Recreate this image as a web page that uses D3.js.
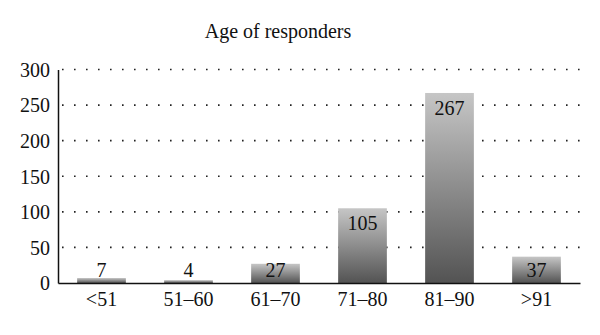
<!DOCTYPE html>
<html>
<head>
<meta charset="utf-8">
<script src="https://cdn.jsdelivr.net/npm/d3@7"></script>
<style>
  html, body { margin: 0; padding: 0; background: #fff; }
  svg { display: block; }
  text { font-family: "Liberation Serif", "DejaVu Serif", serif; fill: #111; }
</style>
</head>
<body>
<svg id="chart" width="600" height="335"></svg>
<script>
// Age groups and number of responders in each
const categories = ["<51", "51\u201360", "61\u201370", "71\u201380", "81\u201390", ">91"];
const counts = [7, 4, 27, 105, 267, 37];
const yTicks = [0, 50, 100, 150, 200, 250, 300];
const title = "Age of responders";

const svg = d3.select("#chart");
const plotLeft = 58, plotRight = 580, plotTop = 69.5, plotBottom = 283;
const fontSize = "20px";

const x = d3.scaleBand()
  .domain(categories)
  .range([plotLeft, plotRight])
  .paddingInner(0.44)
  .paddingOuter(0.22);

const y = d3.scaleLinear().domain([0, 300]).range([plotBottom, plotTop]);

// vertical gradient for bars: light top, dark bottom
const defs = svg.append("defs");
const grad = defs.append("linearGradient")
  .attr("id", "barGrad")
  .attr("x1", 0).attr("y1", 0).attr("x2", 0).attr("y2", 1);
grad.append("stop").attr("offset", "0%").attr("stop-color", "#c6c6c6");
grad.append("stop").attr("offset", "100%").attr("stop-color", "#535353");

// title
svg.append("text")
  .attr("x", 278).attr("y", 38)
  .attr("text-anchor", "middle")
  .style("font-size", fontSize)
  .text(title);

// dotted gridlines
svg.append("g")
  .selectAll("line")
  .data(yTicks.filter(d => d > 0))
  .join("line")
  .attr("x1", plotLeft + 4).attr("x2", plotRight + 2)
  .attr("y1", d => y(d)).attr("y2", d => y(d))
  .attr("stroke", "#222")
  .attr("stroke-width", 1.6)
  .attr("stroke-dasharray", "1.6,10.4");

// y axis
const yAxis = svg.append("g")
  .attr("transform", `translate(${plotLeft},0)`)
  .call(d3.axisLeft(y).tickValues(yTicks).tickSize(0).tickPadding(8));
yAxis.select(".domain").attr("stroke", "#111").attr("stroke-width", 1.5);
yAxis.selectAll("text").style("font-size", fontSize).attr("dy", "0.34em");

// bars
svg.append("g")
  .selectAll("rect")
  .data(counts)
  .join("rect")
  .attr("x", (d, i) => x(categories[i]))
  .attr("width", x.bandwidth())
  .attr("y", d => y(d))
  .attr("height", d => plotBottom - y(d))
  .attr("fill", "url(#barGrad)");

// x axis
const xAxis = svg.append("g")
  .attr("transform", `translate(0,${plotBottom})`)
  .call(d3.axisBottom(x).tickSize(0).tickPadding(7).tickSizeOuter(0));
xAxis.select(".domain").attr("stroke", "#111").attr("stroke-width", 1.5);
xAxis.selectAll("text").style("font-size", fontSize).attr("dy", "0.8em");

// value labels
svg.append("g")
  .selectAll("text")
  .data(counts)
  .join("text")
  .attr("x", (d, i) => x(categories[i]) + x.bandwidth() / 2)
  .attr("y", d => Math.min(y(d) + 22, plotBottom - 6))
  .attr("text-anchor", "middle")
  .style("font-size", fontSize)
  .text(d => d);
</script>
</body>
</html>
